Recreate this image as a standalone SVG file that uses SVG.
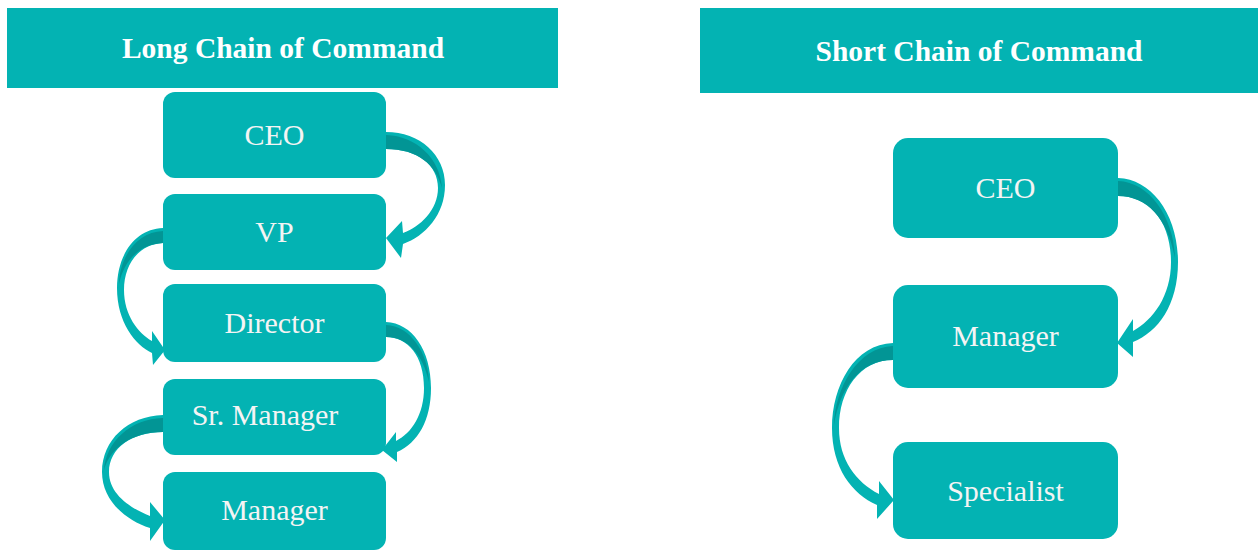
<svg xmlns="http://www.w3.org/2000/svg" width="1260" height="551" viewBox="0 0 1260 551">
<style>
.hdr{fill:#03B3B3}
.box{fill:#03B3B3}
.htxt{font-family:"Liberation Serif","Times New Roman",serif;font-weight:bold;font-size:29.5px;fill:#ffffff;text-anchor:middle}
.ntxt{font-family:"Liberation Serif","Times New Roman",serif;font-size:30px;fill:#f4f4f4;text-anchor:middle}
.arr{fill:#03B3B3}
.shade{fill:#029595}
</style>
<rect width="1260" height="551" fill="#ffffff"/>
<g id="header-long">
<rect class="hdr" x="7" y="8" width="551" height="80"/>
<text class="htxt" x="283" y="58">Long Chain of Command</text>
</g>
<g id="header-short">
<rect class="hdr" x="700" y="8" width="558" height="85"/>
<text class="htxt" x="979" y="61">Short Chain of Command</text>
</g>
<g id="connectors">
<path class="arr" d="M386,132 C420,132 445,155 445,185 C445,215 425,236 403,244 L401,258 L386,238 L402,221 L403,233 C420,227 438,210 438,188 C438,165 418,149 386,149 Z"/>
<path class="shade" d="M386,135 C416,136 440,158 442,188 C436,165 418,149 386,149 Z"/>
<path class="arr" d="M163,228 C135,229 117,255 117,288 C117,322 135,345 152,353 L153,365 L165,350 L152,331 L152,341 C138,333 124,315 124,290 C124,263 140,244 163,243 Z"/>
<path class="shade" d="M163,231 C138,232 120,255 119,284 C124,260 140,244 163,243 Z"/>
<path class="arr" d="M386,322 C412,323 431,350 431,388 C431,420 418,443 397,452 L397,462 L382,450 L396,432 L396,441 C412,433 424,414 424,388 C424,356 408,337 386,337 Z"/>
<path class="shade" d="M386,325 C410,326 428,352 429,382 C423,355 408,337 386,337 Z"/>
<path class="arr" d="M163,415 C128,416 102,440 102,472 C102,500 125,520 150,528 L150,541 L165,520 L150,502 L150,516 C130,508 109,494 109,472 C109,448 132,432 163,432 Z"/>
<path class="shade" d="M163,418 C130,419 106,442 104,470 C110,448 132,432 163,432 Z"/>
<path class="arr" d="M1118,178 C1152,179 1178,215 1178,262 C1178,305 1158,332 1133,342 L1133,357 L1117,343 L1133,319 L1133,331 C1153,320 1171,296 1171,262 C1171,222 1150,196 1118,196 Z"/>
<path class="shade" d="M1118,181 C1150,182 1174,218 1175,258 C1168,220 1148,196 1118,196 Z"/>
<path class="arr" d="M893,343 C855,344 832,385 832,428 C832,468 852,494 877,505 L877,519 L894,500 L879,481 L879,494 C856,482 839,460 839,428 C839,390 860,360 893,360 Z"/>
<path class="shade" d="M893,346 C858,347 835,388 834,425 C840,388 860,360 893,360 Z"/>
</g>
<g id="node-ceo-long">
<rect class="box" x="163" y="92" width="223" height="86" rx="12"/>
<text class="ntxt" x="274.5" y="145">CEO</text>
</g>
<g id="node-vp">
<rect class="box" x="163" y="194" width="223" height="76" rx="12"/>
<text class="ntxt" x="274.5" y="242">VP</text>
</g>
<g id="node-director">
<rect class="box" x="163" y="284" width="223" height="78" rx="12"/>
<text class="ntxt" x="274.5" y="333">Director</text>
</g>
<g id="node-srmanager">
<rect class="box" x="163" y="379" width="223" height="76" rx="12"/>
<text class="ntxt" x="265" y="425">Sr. Manager</text>
</g>
<g id="node-manager-long">
<rect class="box" x="163" y="472" width="223" height="78" rx="12"/>
<text class="ntxt" x="274.5" y="520">Manager</text>
</g>
<g id="node-ceo-short">
<rect class="box" x="893" y="138" width="225" height="100" rx="15"/>
<text class="ntxt" x="1005.5" y="198">CEO</text>
</g>
<g id="node-manager-short">
<rect class="box" x="893" y="285" width="225" height="103" rx="15"/>
<text class="ntxt" x="1005.5" y="346">Manager</text>
</g>
<g id="node-specialist">
<rect class="box" x="893" y="442" width="225" height="97" rx="15"/>
<text class="ntxt" x="1005.5" y="501">Specialist</text>
</g>
</svg>
